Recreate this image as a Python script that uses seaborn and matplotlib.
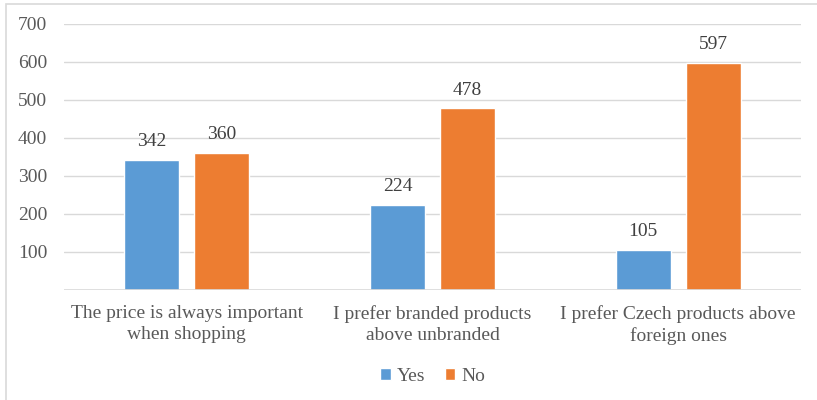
import matplotlib
matplotlib.use("Agg")
import matplotlib.pyplot as plt
from matplotlib.patches import Rectangle
import seaborn as sns
import pandas as pd

categories = [
    "The price is always important\nwhen shopping",
    "I prefer branded products\nabove unbranded",
    "I prefer Czech products above\nforeign ones",
]
yes_values = [342, 224, 105]
no_values = [360, 478, 597]
series_names = ["Yes", "No"]
y_ticks = [100, 200, 300, 400, 500, 600, 700]

df = pd.DataFrame({
    "category": categories * 2,
    "answer": [series_names[0]] * 3 + [series_names[1]] * 3,
    "count": yes_values + no_values,
})

sns.set_theme(style="white")
plt.rcParams["font.family"] = ["Liberation Serif", "DejaVu Serif"]
text_color = "#595959"
grid_color = "#d9d9d9"
fs = 14

fig = plt.figure(figsize=(8.17, 4.0), dpi=100)
ax = fig.add_axes([64 / 817, 1 - 290 / 400, (801 - 64) / 817, (290 - 24) / 400])

sns.barplot(
    data=df, x="category", y="count", hue="answer",
    palette=["#5B9BD5", "#ED7D31"], width=0.57, gap=0.21,
    saturation=1, ax=ax, legend=True,
)

ax.set_ylim(0, 700)
ax.set_xlim(-0.5, 2.5)
ax.set_yticks(y_ticks)
ax.set_yticklabels([str(t) for t in y_ticks])
ax.yaxis.grid(True, color=grid_color, linewidth=1)
ax.axhline(0, color=grid_color, linewidth=1.2)
ax.set_axisbelow(True)
for s in ax.spines.values():
    s.set_visible(False)
ax.tick_params(axis="y", length=0, labelsize=fs, colors=text_color, pad=12)
ax.tick_params(axis="x", length=0, labelsize=fs, colors=text_color, pad=11)
for lbl in ax.get_xticklabels():
    lbl.set_linespacing(1.3)
ax.set_xlabel("")
ax.set_ylabel("")

for container in ax.containers:
    ax.bar_label(container, fmt="%d", padding=7, fontsize=fs, color="#404040")

handles, labels = ax.get_legend_handles_labels()
ax.legend(
    handles, labels, loc="center", bbox_to_anchor=(0.5, -0.325),
    ncol=2, frameon=False, fontsize=fs, labelcolor=text_color,
    handlelength=0.55, handleheight=0.55, handletextpad=0.3, columnspacing=1.0,
)

fig.patches.append(Rectangle(
    (6 / 817, -0.05), 1.0, 1 - 3.5 / 400 + 0.05,
    transform=fig.transFigure, fill=False, edgecolor=grid_color,
    linewidth=1.2, zorder=0,
))

fig.savefig("out.png", dpi=100, facecolor="white")
